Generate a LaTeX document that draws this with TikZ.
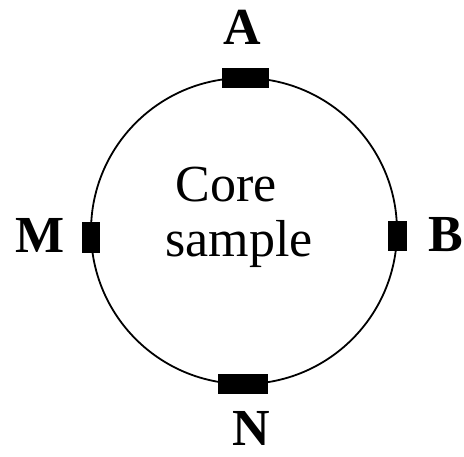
\documentclass[tikz,border=0pt]{standalone}
\usepackage{fontspec}
\setmainfont{Liberation Serif}
\begin{document}
\begin{tikzpicture}[x=1pt,y=-1pt,
  lbl/.style={font=\fontsize{52}{55}\selectfont\bfseries, anchor=base, inner sep=0pt},
  txt/.style={font=\fontsize{52}{55}\selectfont, anchor=base, inner sep=0pt},
  elec/.style={fill=black, draw=black, line width=0.8pt, inner sep=0pt, outer sep=0pt}]
\useasboundingbox (0,0) rectangle (464,457);
\node[circle, draw, line width=1.8pt, minimum size=306pt, inner sep=0pt, outer sep=0pt] (core) at (244,231) {};
\node[elec, minimum width=46pt, minimum height=19pt] (ea) at (245.5,78) {};
\node[elec, minimum width=49pt, minimum height=19pt] (en) at (243,384) {};
\node[elec, minimum width=17pt, minimum height=30pt] (em) at (91,237) {};
\node[elec, minimum width=18pt, minimum height=29pt] (eb) at (397.5,236) {};
\node[lbl] (la) at (242,45) {A};
\node[lbl] (lm) at (40,253) {M};
\node[lbl] (lb) at (446,252) {B};
\node[lbl] (ln) at (251,446) {N};
\node[txt] (t1) at (226.5,202) {Core};
\node[txt] (t2) at (239,257) {sample};
\end{tikzpicture}
\end{document}
